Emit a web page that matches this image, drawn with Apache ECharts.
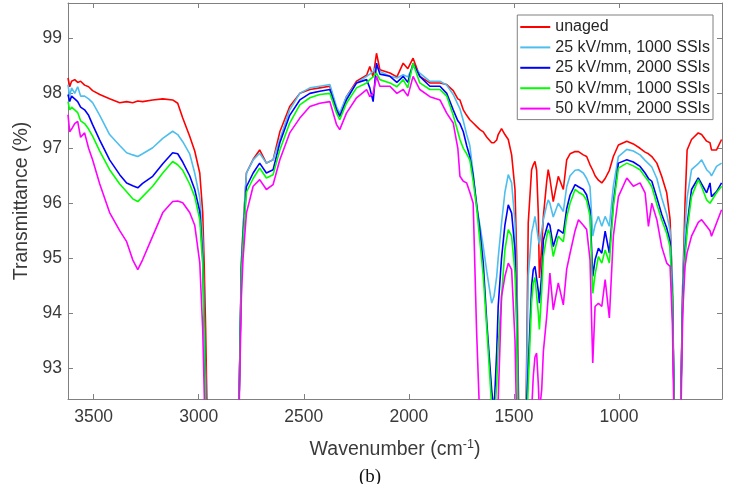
<!DOCTYPE html>
<html>
<head>
<meta charset="utf-8">
<script src="https://cdn.jsdelivr.net/npm/echarts@6/dist/echarts.min.js"></script>
<style>html,body{margin:0;padding:0;background:#fff}#c{width:731px;height:484px}</style>
</head>
<body>
<div id="c"></div>
<script>
const wavenumbers = [3622,3614,3605,3590,3576,3562,3543,3524,3505,3471,3424,3376,3343,3314,3290,3267,3219,3171,3124,3100,3076,3043,3019,2995,2981,2974,2967,2957,2900,2852,2819,2808,2797,2789,2773,2741,2710,2678,2646,2614,2567,2519,2471,2424,2376,2344,2329,2297,2249,2201,2186,2170,2154,2138,2090,2057,2027,2005,1980,1948,1900,1852,1820,1789,1767,1757,1741,1725,1710,1694,1678,1662,1646,1629,1606,1595,1582,1575,1559,1543,1527,1511,1495,1487,1478,1465,1451,1443,1432,1416,1408,1400,1392,1384,1379,1368,1360,1344,1337,1329,1313,1289,1265,1249,1233,1209,1193,1170,1154,1138,1125,1114,1098,1082,1066,1046,1027,1003,963,932,900,876,860,844,820,797,773,757,746,738,724,706,697,686,676,655,623,607,583,567,560,536,512];

const unaged = [98.28,98.12,98.22,98.25,98.2,98.22,98.15,98.12,98.05,97.98,97.9,97.83,97.85,97.83,97.86,97.85,97.88,97.9,97.88,97.82,97.55,97.22,96.95,96.55,95.83,94.9,93.7,91.5,88,88,90.5,92.4,94.92,95.52,96.55,96.8,96.97,96.73,96.79,97.3,97.76,98.0,98.07,98.1,98.13,97.7,97.6,97.94,98.22,98.33,98.49,98.3,98.73,98.43,98.37,98.3,98.55,98.45,98.64,98.31,98.19,98.19,98.16,98.05,97.9,97.88,97.7,97.6,97.52,97.46,97.4,97.34,97.3,97.2,97.1,97.1,97.15,97.25,97.36,97.25,97.16,96.88,96.25,95.03,92.4,89,89,92.0,95.64,96.61,96.7,96.76,96.6,95.8,94.64,95.2,95.76,96.4,96.61,96.45,96.03,96.49,96.25,96.79,96.9,96.94,96.94,96.88,96.85,96.7,96.6,96.5,96.42,96.37,96.45,96.6,96.85,97.06,97.13,97.08,97.0,96.93,96.9,96.85,96.73,96.49,96.19,95.7,94.49,92.4,88,92.4,94.49,96.0,96.97,97.16,97.28,97.25,97.13,97.1,96.97,96.97,97.16];

const kv25_1000 = [98.16,97.95,98.1,98.0,98.12,97.95,97.95,97.9,97.83,97.6,97.25,97.05,96.92,96.88,96.85,96.9,97.01,97.18,97.31,97.25,97.12,96.9,96.55,96.1,95.3,94.0,92.8,91,88,88,90.5,92.4,94.92,95.52,96.55,96.79,96.91,96.73,96.79,97.16,97.7,98.0,98.1,98.13,98.16,97.75,97.64,97.94,98.19,98.31,98.35,98.4,98.49,98.4,98.31,98.28,98.34,98.3,98.49,98.37,98.22,98.22,98.15,97.98,97.8,97.72,97.5,97.25,97.05,96.55,95.94,95.6,95.21,94.75,94.18,94.3,94.67,95.0,95.64,96.2,96.52,96.37,95.64,94.5,92.0,89,89,92.0,94.67,95.46,95.6,95.76,95.73,95.35,95.25,95.5,95.7,95.97,96.06,96.0,95.75,96.0,95.85,96.3,96.5,96.6,96.61,96.55,96.45,96.3,95.4,95.6,95.76,95.58,95.76,95.58,96.31,96.85,96.98,96.95,96.88,96.78,96.72,96.66,96.45,96.1,95.8,95.5,94.6,92.4,88,92.4,94.5,95.52,96.1,96.61,96.72,96.79,96.61,96.55,96.5,96.67,96.73];

const kv25_2000 = [97.98,97.85,97.95,97.9,97.85,97.75,97.7,97.6,97.43,97.15,96.79,96.52,96.37,96.32,96.28,96.36,96.49,96.72,96.92,96.9,96.75,96.5,96.25,95.85,95.0,93.8,92.5,91,88,88,90.5,92.4,94.8,95.4,96.3,96.55,96.73,96.55,96.61,97.1,97.6,97.88,98.0,98.04,98.07,97.7,97.58,97.88,98.19,98.25,98.1,97.85,98.55,98.35,98.31,98.2,98.31,98.2,98.55,98.31,98.13,98.13,98.0,97.7,97.5,97.45,97.3,97.05,96.85,96.5,96.0,95.5,94.91,93.82,92.6,92.2,93.3,94.12,95.0,95.6,95.97,95.82,95.15,94.0,91.8,89,89,92.0,93.0,94.5,94.79,94.85,94.85,94.4,94.18,94.7,95.33,95.55,95.64,95.6,95.21,95.52,95.45,95.9,96.15,96.34,96.3,96.25,96.15,95.88,94.67,94.97,95.18,95.09,95.49,95.09,96.0,96.73,96.79,96.75,96.67,96.55,96.45,96.4,96.1,95.8,95.55,95.3,94.3,92.4,88,92.4,94.3,95.1,95.6,96.25,96.46,96.35,96.19,96.37,96.12,96.21,96.37];

const kv50_1000 = [97.85,97.7,97.75,97.7,97.65,97.5,97.45,97.35,97.22,96.95,96.61,96.35,96.21,96.08,96.03,96.12,96.31,96.55,96.76,96.7,96.6,96.35,96.12,95.7,94.9,93.7,92.4,91,88,88,90.5,92.4,94.7,95.3,96.2,96.45,96.64,96.46,96.52,96.97,97.46,97.79,97.92,97.98,98.0,97.64,97.52,97.82,98.1,98.19,98.25,98.3,98.37,98.25,98.19,98.12,98.25,98.1,98.55,98.19,98.07,98.07,97.95,97.6,97.3,97.16,97.0,96.9,96.79,96.4,95.94,95.3,94.67,93.7,92.3,92.0,92.7,93.4,94.3,95.15,95.52,95.4,94.73,93.7,91.5,89,89,91.5,92.7,94.2,94.55,94.65,94.67,94.0,93.7,94.4,95.03,95.4,95.52,95.45,95.03,95.4,95.3,95.75,96.0,96.25,96.2,96.15,96.05,95.76,94.36,94.7,95.03,94.91,95.15,94.91,95.94,96.64,96.73,96.68,96.61,96.48,96.4,96.3,95.98,95.7,95.45,95.2,94.2,92.4,88,92.4,94.2,95.0,95.5,96.12,96.43,96.3,96.06,96.0,96.0,96.19,96.31];

const kv50_2000 = [97.61,97.3,97.35,97.45,97.49,97.2,97.28,97.0,96.79,96.35,95.83,95.5,95.3,94.97,94.79,94.97,95.4,95.83,96.03,96.04,96.01,95.83,95.6,94.92,93.7,92.6,91.5,90.5,88,88,90.5,92.2,94.3,95.0,95.82,96.31,96.43,96.25,96.34,96.79,97.28,97.55,97.76,97.82,97.85,97.43,97.34,97.64,97.92,98.07,97.94,98.0,98.31,98.13,98.13,98.0,98.07,97.95,98.31,98.07,97.94,97.88,97.64,97.46,97.0,96.49,96.4,96.37,96.2,96.0,93.7,92.0,91.0,90.5,90,90.5,91.5,92.4,94.3,94.67,94.91,94.79,93.5,92.0,90.5,89,89,90,91.0,92.2,92.85,93.2,93.27,92.7,92.2,92.6,93.3,93.94,94.3,94.73,94.06,94.55,94.15,94.8,95.09,95.5,95.7,95.6,95.52,94.97,93.09,94.12,94.18,94.12,94.61,93.91,95.4,96.12,96.46,96.31,96.37,96.19,95.58,96.0,95.7,95.21,94.91,94.85,93.8,92.0,88,92.0,94.0,94.85,95.1,95.4,95.65,95.7,95.58,95.5,95.4,95.64,95.88];

const seriesNames = ['unaged','25 kV/mm, 1000 SSIs','25 kV/mm, 2000 SSIs','50 kV/mm, 1000 SSIs','50 kV/mm, 2000 SSIs'];
const seriesValues = [unaged, kv25_1000, kv25_2000, kv50_1000, kv50_2000];
const seriesColors = ['#ff0000','#4dbeee','#0000ff','#00ff00','#ff00ff'];

const xTicks = [1000,1500,2000,2500,3000,3500];
const yTicks = [93,94,95,96,97,98,99];
const xMin = 510, xMax = 3622;
const yMin = 92.436, yMax = 99.645;

const FONT = '"Liberation Sans", Arial, Helvetica, sans-serif';
const axisColor = '#808080';
const textColor = '#3a3a3a';

function makeX(pos, showLabel, withName) {
  const ax = {
    type: 'value', position: pos, min: xMin, max: xMax, inverse: true,
    axisLine: { show: true, onZero: false, lineStyle: { color: axisColor, width: 1 } },
    axisTick: { show: true, inside: true, length: 5, customValues: xTicks, lineStyle: { color: axisColor } },
    axisLabel: { show: showLabel, customValues: xTicks, fontSize: 17.5, color: textColor, fontFamily: FONT, margin: 9,
      formatter: v => String(v) },
    splitLine: { show: false }
  };
  if (withName) {
    ax.name = '{b|Wavenumber (cm}{s|-1}{b|)}';
    ax.nameLocation = 'middle';
    ax.nameGap = 39;
    ax.nameTextStyle = {
      rich: {
        b: { fontSize: 19.5, color: textColor, fontFamily: FONT },
        s: { fontSize: 12.5, color: textColor, fontFamily: FONT, padding: [0, 0, 10, 0] }
      }
    };
  }
  return ax;
}
function makeY(pos, showLabel, withName) {
  const ax = {
    type: 'value', position: pos, min: yMin, max: yMax,
    axisLine: { show: true, onZero: false, lineStyle: { color: axisColor, width: 1 } },
    axisTick: { show: true, inside: true, length: 5, customValues: yTicks, lineStyle: { color: axisColor } },
    axisLabel: { show: showLabel, customValues: yTicks, fontSize: 17.5, color: textColor, fontFamily: FONT, margin: 6,
      formatter: v => String(v) },
    splitLine: { show: false }
  };
  if (withName) {
    ax.name = 'Transmittance (%)';
    ax.nameLocation = 'middle';
    ax.nameGap = 31;
    ax.nameTextStyle = { fontSize: 19.5, color: textColor, fontFamily: FONT };
  }
  return ax;
}

const chart = echarts.init(document.getElementById('c'), null, { renderer: 'canvas' });
chart.setOption({
  animation: false,
  backgroundColor: '#ffffff',
  grid: { left: 68, right: 9, top: 3, bottom: 85, containLabel: false },
  xAxis: [makeX('bottom', true, true), makeX('top', false, false)],
  yAxis: [makeY('left', true, true), makeY('right', false, false)],
  legend: {
    orient: 'vertical', right: 18, top: 15,
    icon: 'rect', itemWidth: 30, itemHeight: 2, itemGap: 4.4,
    padding: [4, 3, 3, 3],
    borderColor: axisColor, borderWidth: 1, backgroundColor: '#ffffff',
    textStyle: { fontSize: 16, color: '#262626', fontFamily: FONT },
    data: seriesNames
  },
  graphic: [{
    type: 'text', left: 359, top: 468,
    style: { text: '(b)', font: '19px "Liberation Serif", "Times New Roman", serif', fill: '#111' }
  }],
  series: seriesNames.map((n, i) => ({
    name: n, type: 'line', xAxisIndex: 0, yAxisIndex: 0,
    symbol: 'none', clip: true,
    lineStyle: { color: seriesColors[i], width: 1.6 },
    itemStyle: { color: seriesColors[i] },
    data: wavenumbers.map((w, j) => [w, seriesValues[i][j]])
  }))
});
</script>
</body>
</html>
